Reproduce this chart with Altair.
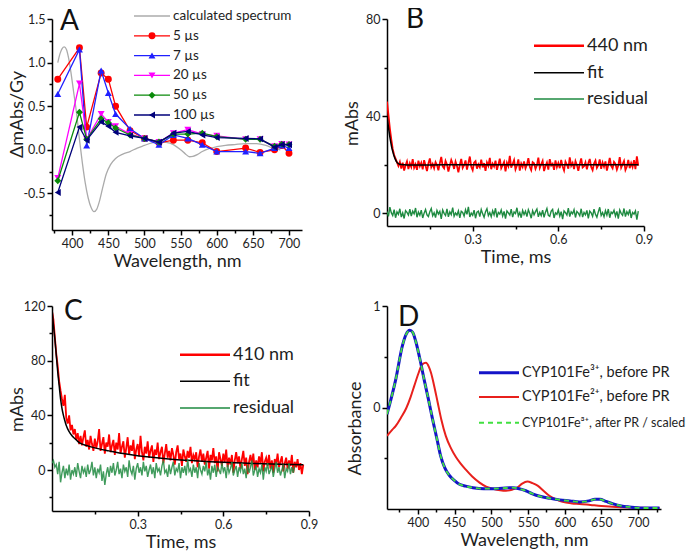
import altair as alt
import pandas as pd

FONT = "Lato"
TXT = "#1e1e1e"

# ---------------- Panel A: transient spectra ----------------
wl_A = [380, 410, 420, 440, 450, 460, 480, 500, 520, 540, 560, 580, 600, 640, 660, 680, 690, 700]
a_5us = [0.81, 1.17, 0.26, 0.88, 0.81, 0.50, 0.22, 0.13, 0.08, 0.11, 0.11, 0.08, -0.02, 0.02, -0.03, 0.00, 0.05, -0.04]
a_7us = [0.64, 1.15, 0.05, 0.91, 0.65, 0.41, 0.24, 0.13, 0.057, 0.17, 0.13, 0.057, -0.02, -0.02, -0.04, 0.02, 0.05, 0.02]
a_20us = [-0.325, 0.76, 0.12, 0.41, 0.32, 0.27, 0.18, 0.13, 0.09, 0.19, 0.23, 0.18, 0.16, 0.12, 0.12, 0.04, 0.065, 0.06]
a_50us = [-0.355, 0.43, 0.12, 0.355, 0.31, 0.25, 0.17, 0.13, 0.09, 0.18, 0.18, 0.19, 0.15, 0.12, 0.12, 0.04, 0.065, 0.06]
a_100us = [-0.49, 0.26, 0.11, 0.32, 0.27, 0.20, 0.16, 0.13, 0.087, 0.19, 0.21, 0.17, 0.14, 0.13, 0.125, 0.03, 0.06, 0.057]

calc_wl = [380, 383, 386, 389, 392, 395, 398, 402, 406, 410,
           414, 418, 422, 426, 430, 434, 438, 442, 447, 453,
           460, 470, 480, 490, 500, 510, 520, 530, 540, 550,
           557, 562, 567, 573, 580, 590, 600, 612, 625, 640,
           655, 668, 678, 688]
calc_val = [1.00, 1.10, 1.16, 1.18, 1.15, 1.05, 0.90, 0.66, 0.42, 0.12,
            -0.15, -0.38, -0.55, -0.66, -0.71, -0.68, -0.58, -0.44, -0.28, -0.17,
            -0.10, -0.05, -0.02, 0.02, 0.05, 0.08, 0.09, 0.085, 0.06, 0.0,
            -0.05, -0.08, -0.075, -0.055, -0.02, 0.015, 0.035, 0.05, 0.06, 0.07,
            0.07, 0.05, 0.02, 0.0]

series_A = [
    ("5 µs", a_5us, "#ff0000", "circle"),
    ("7 µs", a_7us, "#2020ff", "triangle-up"),
    ("20 µs", a_20us, "#ff00ff", "triangle-down"),
    ("50 µs", a_50us, "#0a8a0a", "diamond"),
    ("100 µs", a_100us, "#00007a", "triangle-left"),
]

# ---------------- Panel B: 440 nm kinetics ----------------
STEP = 0.005
b_red = [
    46.0, 40.5, 35.0, 30.5, 26.5, 24.0, 22.5, 21.0, 19.5, 21.2,
    18.4, 20.9, 17.6, 19.8, 21.4, 18.2, 20.6, 19.1, 22.3, 18.8,
    20.2, 17.9, 21.7, 19.4, 20.8, 18.1, 21.9, 19.6, 17.4, 20.5,
    22.6, 19.0, 20.3, 18.6, 21.1, 19.9, 17.7, 20.7, 23.2, 19.3,
    18.5, 21.6, 20.1, 17.2, 19.7, 22.0, 20.4, 18.3, 21.3, 19.5,
    16.9, 20.0, 22.4, 18.7, 19.8, 21.8, 18.0, 20.6, 23.4, 19.2,
    17.8, 20.9, 21.5, 18.4, 20.2, 19.0, 22.1, 18.9, 20.7, 17.5,
    21.0, 19.6, 22.8, 18.2, 20.4, 19.3, 21.7, 17.9, 20.1, 22.5,
    18.6, 19.9, 21.2, 17.3, 20.8, 19.4, 23.7, 18.8, 20.3, 21.9,
    18.1, 19.7, 22.2, 17.6, 20.5, 19.1, 21.4, 18.5, 20.0, 22.7,
    19.2, 17.8, 21.1, 20.6, 18.3, 19.8, 22.9, 18.7, 20.2, 21.6,
    17.4, 19.5, 20.9, 18.0, 22.3, 19.7, 20.4, 17.9, 21.8, 19.0,
    20.7, 18.6, 22.0, 19.3, 17.7, 21.3, 20.1, 18.4, 23.0, 19.6,
    20.8, 18.2, 21.5, 19.9, 17.5, 20.3, 22.6, 18.9, 19.4, 21.0,
    18.1, 20.6, 22.4, 19.1, 17.8, 20.5, 21.7, 18.7, 19.8, 22.2,
    18.3, 20.9, 19.2, 21.4, 17.6, 20.0, 22.8, 19.5, 18.5, 21.2,
    20.4, 18.0, 19.7, 23.1, 18.8, 20.2, 21.6, 17.9, 19.3, 22.0,
    18.6, 20.7, 19.0, 21.9, 18.2, 23.5, 19.6,
]
b_green = [
    0.8, -1.2, 2.6, 0.3, -0.9, 1.5, -1.8, 0.6, -0.4, 1.9,
    -1.5, 0.2, -2.1, 1.1, 0.4, -0.7, 1.7, -1.1, 0.9, -0.2,
    2.2, -1.6, 0.5, -0.8, 1.3, -1.9, 0.1, 1.6, -0.6, -1.3,
    0.7, 2.0, -1.0, 0.3, -1.7, 1.2, -0.3, 0.8, -2.3, 1.4,
    0.0, -0.9, 1.8, -1.4, 0.6, -0.5, 2.4, -1.2, 0.2, -0.7,
    1.0, -1.8, 0.9, 0.4, -1.1, 1.5, -0.4, 2.7, -1.5, 0.1,
    -0.8, 1.3, -2.0, 0.5, 0.9, -1.3, 1.6, -0.2, -1.6, 0.7,
    1.9, -0.9, 0.3, -1.4, 1.1, -0.6, 2.1, -1.7, 0.4, -0.3,
    1.4, -1.1, 0.8, -2.2, 1.0, 0.2, -0.7, 1.7, -1.5, 0.6,
    -0.1, 2.3, -1.0, 0.3, -1.8, 1.2, -0.5, 0.9, -1.3, 1.5,
    0.0, -2.0, 1.1, -0.6, 0.7, 1.8, -1.4, 0.4, -0.9, 1.3,
    -1.6, 0.5, 2.0, -0.8, -1.2, 0.9, 1.6, -1.9, 0.2, -0.4,
    1.4, -1.1, 0.7, -2.4, 1.0, 0.3, -0.7, 2.2, -1.3, 0.6,
    -0.2, 1.5, -1.7, 0.8, 0.1, -1.0, 1.9, -1.5, 0.4, -0.6,
    1.2, -2.1, 0.9, 0.2, -1.2, 1.7, -0.4, -1.6, 0.6, 2.5,
    -0.9, 0.3, -1.4, 1.1, -0.7, 1.8, -1.8, 0.5, -0.1, 1.3,
    -1.1, 0.8, -2.2, 1.4, 0.0, -0.8, 2.0, -1.3, 0.7, -0.5,
    1.6, -1.9, 0.4, -0.3, 1.0, -2.6, 0.9,
]
bfit_t = [0, 0.004, 0.008, 0.012, 0.016, 0.02, 0.025, 0.03, 0.035, 0.04, 0.05, 0.06, 0.08, 0.1, 0.2, 0.4, 0.6, 0.88]
bfit_v = [40, 36.5, 33, 30, 27.5, 25.5, 23.5, 22, 21, 20.5, 20.1, 20.0, 19.9, 19.9, 20.0, 20.0, 20.0, 20.0]

# ---------------- Panel C: 410 nm kinetics ----------------
c_red = [
    116, 110, 97, 85, 76, 65, 58, 52, 47, 55,
    38, 34, 40, 29, 33, 26, 30, 22, 27, 19,
    25, 18, 24, 29, 17, 22, 15, 25, 19, 14,
    23, 16, 21, 30, 14, 19, 24, 12, 20, 17,
    26, 13, 18, 22, 11, 20, 15, 27, 12, 17,
    21, 9, 16, 24, 11, 18, 14, 22, 8, 15,
    19, 10, 25, 13, 7, 17, 12, 21, 9, 14,
    18, 6, 15, 11, 20, 8, 13, 17, 5, 12,
    19, 9, 14, 7, 16, 11, 4, 13, 18, 8,
    12, 3, 15, 10, 6, 14, 9, 17, 5, 11,
    8, 13, 2, 10, 15, 6, 12, 4, 9, 14,
    1, 11, 7, 16, 5, 10, -1, 13, 8, 3,
    12, 6, 15, 2, 9, 4, 11, -2, 7, 13,
    5, 10, 1, 8, 14, 3, 9, -3, 6, 11,
    4, 12, 0, 7, 2, 10, 5, 13, -1, 6,
    9, 3, 11, 1, 7, -2, 8, 4, 12, 2,
    6, 10, -1, 5, 9, 1, 7, 3, 11, -2,
    6, 2, 8, 0, 5, -3, 4,
]
c_green = [
    5, 7, 2, 4, -3, 6, -9, -2, 3, -6,
    1, -4, 4, -7, 0, -3, 2, -5, 5, -1,
    -6, 3, -2, 1, -5, 4, -3, 0, 6, -4,
    2, -6, 1, -2, 4, -8, -1, -11, -3, 2,
    -5, 3, -2, 5, -4, 0, 6, -3, 1, -6,
    4, -1, 2, -5, 7, 0, -3, 3, -7, 1,
    5, -2, 2, -4, 6, -1, 3, -5, 0, 4,
    -3, 2, -6, 5, -1, 1, -4, 3, 7, -2,
    0, -5, 4, -3, 2, 6, -4, 1, -1, 5,
    -6, 2, -2, 3, -4, 8, -1, 1, -5, 4,
    -2, 2, -6, 5, 0, -3, 3, -1, 6, -4,
    1, -7, 3, -2, 4, -5, 2, 0, -3, 5,
    -1, 2, -6, 4, -2, 1, 6, -4, 0, 3,
    -5, 2, -1, 5, -3, 1, -6, 4, -2, 2,
    7, -4, 0, 3, -5, 1, -2, 4, -7, 2,
    -1, 5, -3, 0, 3, -5, 1, 6, -2, 2,
    -4, 0, 4, -6, 1, -1, 5, -3, 2, -2,
    3,
]
cfit_t = [0, 0.005, 0.01, 0.015, 0.02, 0.025, 0.03, 0.035, 0.04, 0.045, 0.05, 0.06, 0.07, 0.08,
          0.09, 0.1, 0.12, 0.15, 0.2, 0.25, 0.3, 0.35, 0.4, 0.5, 0.6, 0.7, 0.8, 0.88]
cfit_v = [118, 106, 96, 84, 72, 62, 52, 45, 40, 36, 32.5, 28, 25, 23,
          21, 19.5, 18, 16.2, 14, 12, 10.5, 9.3, 8.3, 6.8, 5.6, 4.8, 4.2, 3.9]

# ---------------- Panel D: absorption spectra ----------------
d_blue_wl = [358, 370, 379, 384, 389, 393, 397, 403, 409, 415,
             420, 426, 431, 437, 443, 450, 456, 465, 475, 490,
             502, 515, 529, 538, 547, 556, 566, 580, 593, 607,
             620, 633, 641, 648, 656, 666, 677, 688, 705, 729]
d_blue_v = [-0.066, 0.28, 0.61, 0.72, 0.76, 0.74, 0.655, 0.47, 0.26, 0.06,
            -0.115, -0.31, -0.476, -0.60, -0.67, -0.72, -0.754, -0.775, -0.79, -0.80,
            -0.80, -0.795, -0.79, -0.80, -0.82, -0.85, -0.875, -0.895, -0.91, -0.92,
            -0.93, -0.92, -0.905, -0.905, -0.925, -0.95, -0.97, -0.98, -0.99, -0.99]
d_red_wl = [358, 365, 370, 377, 384, 390, 395, 401, 406, 411,
            415, 418, 422, 427, 432, 438, 445, 452, 458, 465,
            474, 484, 493, 502, 512, 520, 528, 535, 542, 549,
            556, 563, 571, 579, 588, 597, 610, 620, 635, 650,
            670, 690, 729]
d_red_v = [-0.28, -0.22, -0.18, -0.10, -0.01, 0.10, 0.21, 0.34, 0.425, 0.44,
           0.40, 0.34, 0.22, 0.05, -0.12, -0.28, -0.40, -0.49, -0.55, -0.61,
           -0.68, -0.74, -0.78, -0.80, -0.815, -0.82, -0.81, -0.79, -0.75, -0.73,
           -0.745, -0.77, -0.82, -0.87, -0.905, -0.93, -0.945, -0.95, -0.96, -0.97,
           -0.98, -0.985, -0.99]


# ---------------- helpers ----------------
def cond_tick(test):
    return {"condition": {"test": test, "value": 5}, "value": 3}


def qx(domain, axis):
    return alt.X("x:Q", scale=alt.Scale(domain=domain, nice=False, zero=False), axis=axis)


def qy(domain, axis):
    return alt.Y("y:Q", scale=alt.Scale(domain=domain, nice=False, zero=False), axis=axis)


def line(xs, ys, xdom, ydom, ax, ay, color, width=1.5, interp="linear", dash=None, opacity=1.0):
    df = pd.DataFrame({"x": xs, "y": ys})
    kw = dict(color=color, strokeWidth=width, interpolate=interp, opacity=opacity, clip=True)
    if dash:
        kw["strokeDash"] = dash
    return alt.Chart(df).mark_line(**kw).encode(x=qx(xdom, ax), y=qy(ydom, ay), order=alt.Order("x:Q"))


def points(xs, ys, xdom, ydom, ax, ay, color, shape):
    df = pd.DataFrame({"x": xs, "y": ys})
    return alt.Chart(df).mark_point(shape=shape, filled=True, size=48, color=color, opacity=1).encode(
        x=qx(xdom, ax), y=qy(ydom, ay))


def legend_row(x0, x1, y, label, color, fs, width=1.5, dash=None, shape=None, limit=0):
    base = alt.Chart(pd.DataFrame({"label": [label]}))
    kw = dict(color=color, strokeWidth=width)
    if dash:
        kw["strokeDash"] = dash
    out = [base.mark_rule(**kw).encode(x=alt.value(x0), x2=alt.value(x1), y=alt.value(y))]
    if shape:
        out.append(base.mark_point(shape=shape, filled=True, size=48, color=color, opacity=1).encode(
            x=alt.value((x0 + x1) / 2), y=alt.value(y)))
    tkw = dict(align="left", baseline="middle", font=FONT, fontSize=fs, color=TXT)
    if limit:
        tkw["limit"] = limit
        tkw["ellipsis"] = "\u200b"
    out.append(base.mark_text(**tkw).encode(x=alt.value(x1 + 3), y=alt.value(y), text="label:N"))
    return out


def letter(ch, x, y):
    return alt.Chart(pd.DataFrame({"l": [ch]})).mark_text(
        align="left", baseline="alphabetic", font=FONT, fontSize=28, color="#111").encode(
        x=alt.value(x), y=alt.value(y), text="l:N")


def yaxis(title, values, major, label_expr, tx, ty):
    return alt.Axis(title=title, values=values, labelExpr=f"({major}) ? {label_expr} : ''",
                    tickSize=cond_tick(major), titleX=tx, titleY=ty, titleAngle=270,
                    titleBaseline="top", titleAlign="center", labelOverlap=False)


def xaxis(title, values, major, label_expr):
    return alt.Axis(title=title, values=values, labelExpr=f"({major}) ? {label_expr} : ''",
                    tickSize=cond_tick(major), labelFlush=False, labelOverlap=False, titlePadding=3)


wl_major = "datum.value % 50 === 0"
t_major = "abs(datum.value / 0.3 - round(datum.value / 0.3)) < 0.001"
t_vals = [0.15, 0.3, 0.45, 0.6, 0.75, 0.9]

# ---------------- Panel A ----------------
xdA, ydA = [372, 718], [-0.92, 1.5]
axAx = xaxis("Wavelength, nm", list(range(375, 701, 25)), wl_major, "format(datum.value, 'd')")
a_major = "abs(datum.value * 2 - round(datum.value * 2)) < 0.001"
axAy = yaxis("ΔmAbs/Gy", [-0.75, -0.5, -0.25, 0, 0.25, 0.5, 0.75, 1.0, 1.25, 1.5], a_major,
             "(datum.value < 0 ? '-' : '') + format(abs(datum.value), '.1f')", -44, 95)
layersA = [line(calc_wl, calc_val, xdA, ydA, axAx, axAy, "#ababab", 1.3, "monotone")]
for name, vals, col, shp in series_A:
    layersA.append(line(wl_A, vals, xdA, ydA, axAx, axAy, col, 1.3))
    layersA.append(points(wl_A, vals, xdA, ydA, axAx, axAy, col, shp))
legA_y = [-3, 16.8, 36.6, 56.4, 76.2, 96]
layersA += legend_row(82, 118, legA_y[0], "calculated spectrum", "#ababab", 13.5, 1.3)
for i, (name, vals, col, shp) in enumerate(series_A):
    layersA += legend_row(82, 118, legA_y[i + 1], name, col, 13.5, 1.3, shape=shp)
layersA.append(letter("A", 8, 11))
panelA = alt.layer(*layersA).properties(width=250, height=211)

# ---------------- Panel B ----------------
xdB, ydB = [0, 0.9], [-5.2, 80]
axBx = xaxis("Time, ms", t_vals, t_major, "format(datum.value, '.1f')")
axBy = yaxis("mAbs", [0, 20, 40, 60, 80], "datum.value % 40 === 0", "format(datum.value, 'd')", -44, 104)
tB_red = [round(i * STEP, 4) for i in range(len(b_red))]
tB_green = [round(i * STEP, 4) for i in range(len(b_green))]
layersB = [
    line(tB_red, b_red, xdB, ydB, axBx, axBy, "#ff0000", 1.8),
    line(bfit_t, bfit_v, xdB, ydB, axBx, axBy, "#000000", 1.5, "monotone"),
    line(tB_green, b_green, xdB, ydB, axBx, axBy, "#1e8a40", 1.4),
]
layersB += legend_row(147, 197, 26.7, "440 nm", "#ff0000", 18, 2.5)
layersB += legend_row(147, 197, 53.7, "fit", "#000000", 18, 1.5)
layersB += legend_row(147, 197, 80, "residual", "#1e8a40", 18, 1.5)
layersB.append(letter("B", 19, 9))
panelB = alt.layer(*layersB).properties(width=257, height=207)

# ---------------- Panel C ----------------
xdC, ydC = [0, 0.9], [-30, 120]
axCx = xaxis("Time, ms", t_vals, t_major, "format(datum.value, '.1f')")
axCy = yaxis("mAbs", [-20, 0, 20, 40, 60, 80, 100, 120], "datum.value % 40 === 0",
             "format(datum.value, 'd')", -44, 103)
tC_red = [round(i * STEP, 4) for i in range(len(c_red))]
tC_green = [round(i * STEP, 4) for i in range(len(c_green))]
layersC = [
    line(tC_red, c_red, xdC, ydC, axCx, axCy, "#ff0000", 1.8),
    line(cfit_t, cfit_v, xdC, ydC, axCx, axCy, "#000000", 1.5, "monotone"),
    line(tC_green, c_green, xdC, ydC, axCx, axCy, "#1e8a40", 1.4, opacity=0.85),
]
layersC += legend_row(128, 178, 48.7, "410 nm", "#ff0000", 18, 2.5)
layersC += legend_row(128, 178, 75.3, "fit", "#000000", 18, 1.5)
layersC += legend_row(128, 178, 102, "residual", "#1e8a40", 18, 1.5)
layersC.append(letter("C", 12, 14))
panelC = alt.layer(*layersC).properties(width=257, height=205)

# ---------------- Panel D ----------------
xdD, ydD = [358, 731], [-1, 1]
axDx = xaxis("Wavelength, nm", list(range(375, 726, 25)), wl_major, "format(datum.value, 'd')")
axDy = yaxis("Absorbance", [-0.5, 0, 0.5, 1], "datum.value % 1 === 0", "format(datum.value, 'd')", -41, 122)
layersD = [
    line(d_red_wl, d_red_v, xdD, ydD, axDx, axDy, "#e8201c", 2.0, "monotone"),
    line(d_blue_wl, d_blue_v, xdD, ydD, axDx, axDy, "#1414c8", 3.0, "monotone"),
    line(d_blue_wl, d_blue_v, xdD, ydD, axDx, axDy, "#40e040", 1.8, "monotone", dash=[5, 4]),
]
layersD += legend_row(92, 132, 66.7, "CYP101Fe³⁺, before PR", "#1414c8", 14.5, 3.0, limit=170)
layersD += legend_row(92, 132, 91, "CYP101Fe²⁺, before PR", "#e8201c", 14.5, 2.0, limit=170)
layersD += legend_row(92, 132, 116.7, "CYP101Fe³⁺, after PR / scaled", "#40e040", 12.5, 2.0,
                      dash=[5, 4], limit=170)
layersD.append(letter("D", 11, 20))
panelD = alt.layer(*layersD).properties(width=274, height=203)

chart = alt.concat(
    panelA, panelB, panelC, panelD, columns=2,
    spacing={"row": 76, "column": 78}, bounds="flush",
    align={"row": "each", "column": "none"},
).properties(
    padding={"left": 0, "top": -2, "right": 0, "bottom": 0}, background="white"
).configure_view(stroke=None).configure_axis(
    grid=False, domainColor="#000", domainWidth=1.5, tickColor="#000", tickWidth=1.5,
    labelFont=FONT, labelFontSize=12.5, labelColor=TXT, labelPadding=2,
    titleFont=FONT, titleFontSize=18, titleColor=TXT, titleFontWeight="normal",
).configure_text(font=FONT)

chart.save("out.html", embed_options={"renderer": "svg", "actions": False})
